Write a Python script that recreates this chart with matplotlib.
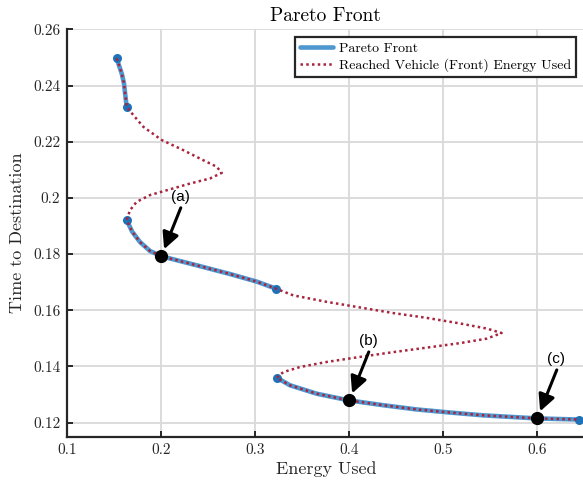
import matplotlib
matplotlib.use("Agg")
import matplotlib.pyplot as plt

plt.rcParams['font.family'] = 'cmr10'
plt.rcParams['axes.formatter.use_mathtext'] = True
plt.rcParams['mathtext.fontset'] = 'cm'

# energy used vs time to destination along the whole sweep
energy = [0.1525, 0.1579, 0.1603, 0.1617, 0.1632,
          0.1702, 0.1809, 0.2004, 0.2234, 0.2447, 0.2589, 0.2643,
          0.2518, 0.2305, 0.2057, 0.1880, 0.1738, 0.1667, 0.1632,
          0.1690, 0.1773, 0.1880, 0.2004, 0.2377, 0.2731, 0.3015, 0.3220,
          0.3404, 0.3759, 0.4114, 0.4468, 0.4823, 0.5178, 0.5462, 0.5621,
          0.5462, 0.5178, 0.4823, 0.4468, 0.4114, 0.3759, 0.3476, 0.3298, 0.3228,
          0.3369, 0.3653, 0.4000, 0.4362, 0.4717, 0.5071, 0.5426, 0.6000, 0.6447]
time = [0.2497, 0.2443, 0.2408, 0.2366, 0.2324,
        0.2295, 0.2253, 0.2206, 0.2170, 0.2134, 0.2111, 0.2089,
        0.2069, 0.2051, 0.2027, 0.2010, 0.1986, 0.1956, 0.1921,
        0.1880, 0.1843, 0.1811, 0.1792, 0.1760, 0.1729, 0.1702, 0.1677,
        0.1653, 0.1630, 0.1610, 0.1590, 0.1573, 0.1553, 0.1535, 0.1519,
        0.1499, 0.1483, 0.1467, 0.1451, 0.1434, 0.1416, 0.1398, 0.1380, 0.1360,
        0.1333, 0.1303, 0.1279, 0.1262, 0.1247, 0.1236, 0.1226, 0.1215, 0.1211]

# index ranges of the non-dominated pieces
front_pieces = [(0, 4), (18, 26), (43, 52)]

# highlighted solutions
pick_labels = ['(a)', '(b)', '(c)']
pick_energy = [0.2, 0.4, 0.6]
pick_time = [0.1792, 0.1279, 0.1215]

fig = plt.figure(figsize=(5.83, 4.87), dpi=100)
ax = fig.add_axes([0.1154, 0.1033, 0.8868, 0.8365])

for k, (i0, i1) in enumerate(front_pieces):
    ax.plot(energy[i0:i1 + 1], time[i0:i1 + 1], color='#4f97cf', lw=3.3,
            solid_capstyle='round', solid_joinstyle='round',
            label='Pareto Front' if k == 0 else None, zorder=3)
for i0, i1 in front_pieces:
    ax.plot([energy[i0], energy[i1]], [time[i0], time[i1]], 'o', color='#1f72b8',
            ms=6.5, mec='none', zorder=4)

ax.plot(energy, time, color='#a8243f', lw=1.8, dashes=(1, 1.3),
        label='Reached Vehicle (Front) Energy Used', zorder=5)

ax.plot(pick_energy, pick_time, 'o', color='k', ms=8.5, zorder=6)
for lab, ex, ty in zip(pick_labels, pick_energy, pick_time):
    ax.annotate('', xy=(ex, ty), xytext=(19.5, 48.5), textcoords='offset pixels',
                arrowprops=dict(arrowstyle='-|>,head_length=0.5,head_width=0.25',
                                mutation_scale=20, lw=2.2, color='k',
                                shrinkA=0, shrinkB=5.5), zorder=7)
    ax.annotate(lab, xy=(ex, ty), xytext=(19, 59), textcoords='offset pixels',
                ha='center', va='center', fontsize=11, family='Liberation Sans', zorder=7)

ax.set_xlim(0.1, 0.65)
ax.set_ylim(0.115, 0.26)
ax.set_xticks([0.1, 0.2, 0.3, 0.4, 0.5, 0.6])
ax.set_yticks([0.12, 0.14, 0.16, 0.18, 0.2, 0.22, 0.24, 0.26])
ax.set_xticklabels(['0.1', '0.2', '0.3', '0.4', '0.5', '0.6'])
ax.set_yticklabels(['0.12', '0.14', '0.16', '0.18', '0.2', '0.22', '0.24', '0.26'])

ax.grid(True, color='#d9d9d9', lw=1.3)
ax.set_axisbelow(True)
for side in ['top', 'right']:
    ax.spines[side].set_visible(False)
for side in ['left', 'bottom']:
    ax.spines[side].set_color('#262626')
    ax.spines[side].set_linewidth(1.6)
ax.tick_params(direction='in', length=4.5, width=1.4, color='#262626',
               labelsize=11, labelcolor='#262626', pad=5)

ax.set_xlabel('Energy Used', fontsize=13, color='#262626', labelpad=3)
ax.set_ylabel('Time to Destination', fontsize=13, color='#262626', labelpad=6)
ax.set_title('Pareto Front', fontsize=14, color='#000000', pad=6)

leg = ax.legend(loc='upper right', bbox_to_anchor=(0.9834, 0.9804), borderaxespad=0,
                fontsize=10, fancybox=False, framealpha=1, handlelength=2.4,
                borderpad=0.35, labelspacing=0.25, handletextpad=0.4)
leg.get_frame().set_edgecolor('#262626')
leg.get_frame().set_linewidth(1.6)

fig.savefig('out.png', dpi=100)
